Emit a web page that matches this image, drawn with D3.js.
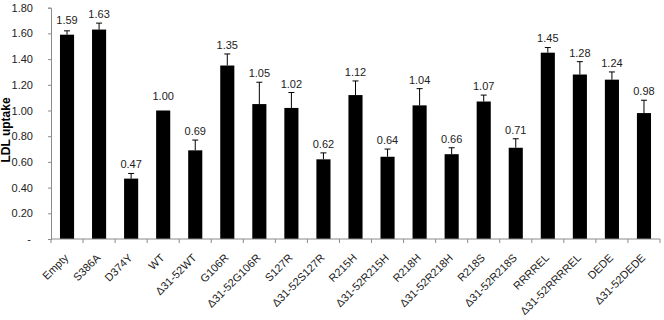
<!DOCTYPE html>
<html><head><meta charset="utf-8">
<script src="https://cdn.jsdelivr.net/npm/d3@7"></script>
<style>body{margin:0;background:#fff}svg{display:block}</style>
</head><body>
<script>
const categories = ["Empty","S386A","D374Y","WT","Δ31-52WT","G106R","Δ31-52G106R","S127R","Δ31-52S127R","R215H","Δ31-52R215H","R218H","Δ31-52R218H","R218S","Δ31-52R218S","RRRREL","Δ31-52RRRREL","DEDE","Δ31-52DEDE"];
const values = [1.59,1.63,0.47,1.00,0.69,1.35,1.05,1.02,0.62,1.12,0.64,1.04,0.66,1.07,0.71,1.45,1.28,1.24,0.98];
const errors = [0.03,0.05,0.04,0,0.08,0.09,0.17,0.12,0.05,0.11,0.06,0.13,0.05,0.05,0.07,0.04,0.10,0.06,0.10];
const yTicks = [0,0.2,0.4,0.6,0.8,1.0,1.2,1.4,1.6,1.8];
const yLabel = "LDL uptake";

const W=664,H=320;
const svg=d3.select("body").append("svg").attr("width",W).attr("height",H);
const x=d3.scaleBand().domain(categories).range([51,660]).paddingInner(0.56).paddingOuter(0.28);
const y=d3.scaleLinear().domain([0,1.8]).range([239,7.7]);
const font="Liberation Sans, Arial, sans-serif";
const axisCol="#8a8a8a";
const cx=c=>x(c)+x.bandwidth()/2;

// bars
svg.selectAll("rect.bar").data(values).join("rect").attr("class","bar")
 .attr("x",(d,i)=>x(categories[i])).attr("width",x.bandwidth())
 .attr("y",d=>y(d)).attr("height",d=>y(0)-y(d)).attr("fill","#000");

// error bars
const eg=svg.append("g");
values.forEach((v,i)=>{
  if(!errors[i]) return;
  const px=cx(categories[i]);
  eg.append("line").attr("x1",px).attr("x2",px).attr("y1",y(v)).attr("y2",y(v+errors[i])).attr("stroke","#000").attr("stroke-width",1);
  eg.append("line").attr("x1",px-3).attr("x2",px+3).attr("y1",y(v+errors[i])).attr("y2",y(v+errors[i])).attr("stroke","#000").attr("stroke-width",1);
});

// value labels
svg.selectAll("text.val").data(values).join("text").attr("class","val")
 .attr("x",(d,i)=>cx(categories[i]))
 .attr("y",(d,i)=>Math.min(y(d+errors[i])-5, y(d)-11))
 .attr("text-anchor","middle").attr("font-family",font).attr("font-size",11).attr("fill","#222")
 .text(d=>d.toFixed(2));

// y axis
const ya=svg.append("g").attr("transform","translate(51,0)")
 .call(d3.axisLeft(y).tickValues(yTicks).tickSize(3).tickPadding(15).tickFormat(d=>d===0?"-":d.toFixed(2)));
ya.select(".domain").attr("stroke",axisCol);
ya.selectAll(".tick line").attr("stroke",axisCol);
ya.selectAll("text").attr("font-family",font).attr("font-size",11).attr("fill","#222");
ya.selectAll(".tick").filter(d=>d===0).select("text").attr("x",-20);

// x axis
const xa=svg.append("g").attr("transform","translate(0,239)");
xa.append("line").attr("x1",51).attr("x2",660).attr("y1",0).attr("y2",0).attr("stroke",axisCol);
const bounds=[51].concat(categories.map(c=>x(c)+x.bandwidth()+x.step()*x.paddingInner()/2));
xa.selectAll("line.tk").data(bounds).join("line").attr("class","tk")
 .attr("x1",d=>d).attr("x2",d=>d).attr("y1",0).attr("y2",4).attr("stroke",axisCol);
xa.selectAll("text").data(categories).join("text")
 .attr("transform",c=>`translate(${cx(c)+2},19.5) rotate(-45)`)
 .attr("text-anchor","end").attr("font-family",font).attr("font-size",11).attr("fill","#222")
 .text(c=>c);

// y label
svg.append("text").attr("transform","translate(10,130) rotate(-90)").attr("text-anchor","middle")
 .attr("font-family",font).attr("font-size",12).attr("font-weight","bold").attr("fill","#000").text(yLabel);
</script>
</body></html>
